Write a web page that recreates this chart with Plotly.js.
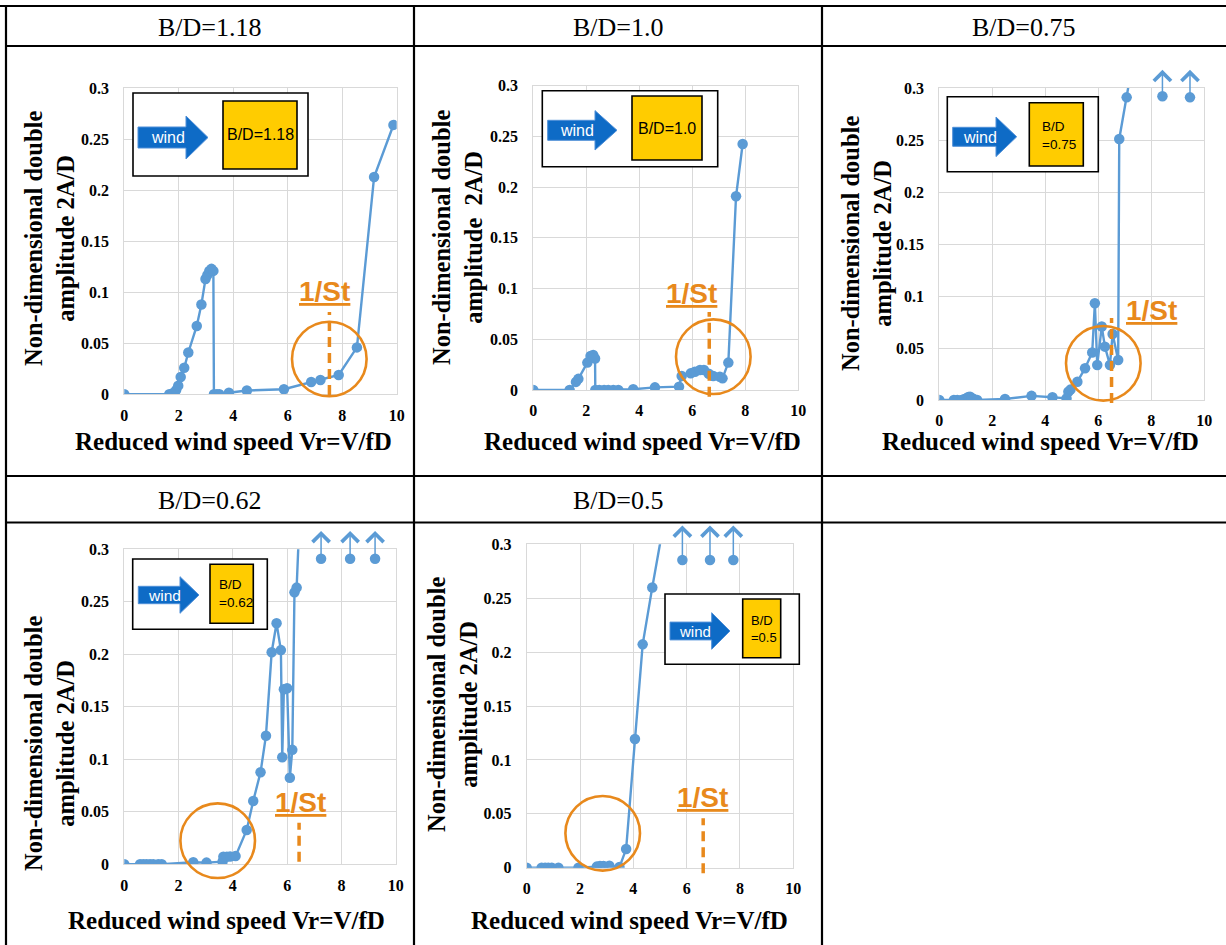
<!DOCTYPE html>
<html><head><meta charset="utf-8">
<script src="https://cdn.plot.ly/plotly-3.0.1.min.js"></script>
<style>html,body{margin:0;padding:0;background:#fff}#chart{width:1226px;height:945px}</style>
</head><body><div id="chart"></div>
<script>
// ---------------- data ----------------
const panelTitles = ['B/D=1.18', 'B/D=1.0', 'B/D=0.75', 'B/D=0.62', 'B/D=0.5'];
const insetLabels = ['B/D=1.18', 'B/D=1.0', 'B/D<br>=0.75', 'B/D<br>=0.62', 'B/D<br>=0.5'];
const windLabel = 'wind';
const xTitle = 'Reduced wind speed Vr=V/fD';
const yTitles = ['Non-dimensional double<br>amplitude 2A/D', 'Non-dimensional double<br>amplitude\u00a0 2A/D',
  'Non-dimensional double<br>amplitude 2A/D', 'Non-dimensional double<br>amplitude 2A/D', 'Non-dimensional double<br>amplitude 2A/D'];
const stLabel = '1/St';
const xTickVals = [0, 2, 4, 6, 8, 10];
const xTickText = ['0', '2', '4', '6', '8', '10'];
const yTickVals = [0, 0.05, 0.1, 0.15, 0.2, 0.25, 0.3];
const yTickText = ['0', '0.05', '0.1', '0.15', '0.2', '0.25', '0.3'];

// B/D = 1.18
const bd118Vr  = [0, 1.65, 1.78, 1.9, 1.98, 2.07, 2.2, 2.35, 2.66, 2.83, 2.98, 3.05, 3.12, 3.2, 3.27, 3.29, 3.4, 3.49, 3.84, 4.5, 5.86, 6.86, 7.2, 7.87, 8.54, 9.17, 9.88];
const bd118Amp = [0, 0, 0.001, 0.004, 0.0085, 0.017, 0.026, 0.041, 0.067, 0.088, 0.113, 0.117, 0.121, 0.123, 0.121, 0, 0, 0, 0.0015, 0.0037, 0.005, 0.012, 0.014, 0.019, 0.046, 0.213, 0.264];
// B/D = 1.0
const bd10Vr  = [0, 1.37, 1.61, 1.7, 2.04, 2.16, 2.26, 2.33, 2.34, 2.49, 2.67, 2.83, 3.02, 3.21, 3.77, 4.59, 5.5, 5.6, 5.94, 6.1, 6.29, 6.44, 6.62, 6.79, 7.04, 7.14, 7.36, 7.65, 7.9];
const bd10Amp = [0, 0, 0.008, 0.011, 0.027, 0.0335, 0.0345, 0.031, 0, 0, 0, 0, 0, 0, 0.0007, 0.0026, 0.0033, 0.0138, 0.0164, 0.018, 0.0197, 0.0197, 0.016, 0.0138, 0.013, 0.0115, 0.027, 0.191, 0.2425];
// B/D = 0.75
const bd075Vr  = [0, 0.55, 0.68, 0.84, 0.95, 1.03, 1.1, 1.16, 1.22, 1.3, 1.43, 2.48, 3.48, 4.27, 4.8, 4.87, 4.95, 5.21, 5.5, 5.77, 5.87, 5.96, 6.13, 6.25, 6.44, 6.54, 6.75, 6.79, 7.07, 7.4];
const bd075Amp = [0, 0, 0, 0, 0.001, 0.0016, 0.003, 0.0032, 0.002, 0.001, 0, 0.001, 0.004, 0.0026, 0.0016, 0.008, 0.01, 0.0176, 0.0305, 0.0456, 0.093, 0.0337, 0.0706, 0.0513, 0.0337, 0.0635, 0.0385, 0.251, 0.291, 0.34];
const bd075OverVr  = [8.42, 9.46];
const bd075OverAmp = [0.292, 0.291];
// B/D = 0.62
const bd062Vr  = [0, 0.58, 0.7, 0.82, 0.95, 1.07, 1.25, 1.38, 2.54, 3.03, 3.62, 3.65, 3.78, 3.9, 4.1, 4.51, 4.75, 5.02, 5.22, 5.43, 5.61, 5.77, 5.82, 5.88, 6.0, 6.1, 6.19, 6.27, 6.35, 6.6];
const bd062Amp = [0, 0, 0, 0, 0, 0, 0, 0, 0.0019, 0.0016, 0.0025, 0.0073, 0.0073, 0.0075, 0.0078, 0.0327, 0.0603, 0.0876, 0.1225, 0.202, 0.2295, 0.204, 0.102, 0.1667, 0.1676, 0.0825, 0.109, 0.259, 0.2635, 0.42];
const bd062OverVr  = [7.25, 8.32, 9.24];
const bd062OverAmp = [0.291, 0.291, 0.291];
// B/D = 0.5
const bd05Vr  = [0, 0.56, 0.69, 0.81, 0.94, 1.19, 1.94, 2.63, 2.75, 2.88, 3.1, 3.48, 3.73, 4.06, 4.35, 4.71, 5.5];
const bd05Amp = [0, 0, 0, 0, 0, 0, 0, 0.001, 0.0015, 0.0015, 0.0018, 0.0006, 0.0173, 0.1194, 0.2072, 0.26, 0.37];
const bd05OverVr  = [5.84, 6.875, 7.75];
const bd05OverAmp = [0.2855, 0.2855, 0.2855];
// 1/St reference speeds
const strouhalVr = [7.53, 6.64, 6.5, 6.44, 6.62];

// ---------------- layout geometry (pixels) ----------------
const W = 1226, H = 945;
const fx = p => p / W, fy = p => 1 - p / H;
const BLUE = '#5B9BD5', ORANGE = '#E8891C', GRID = '#D9D9D9';
const SERIF = 'Liberation Serif, Times New Roman, serif';
const SANS = 'Liberation Sans, Arial, sans-serif';
const bold = arr => arr.map(t => '<b>' + t + '</b>');

const plotBoxes = [
  {l: 124.3, r: 396.7, t: 88.3, b: 394.3},
  {l: 533.3, r: 798.3, t: 85.7, b: 390},
  {l: 939.3, r: 1204.3, t: 88, b: 400},
  {l: 124.3, r: 395.7, t: 549.3, b: 864.3},
  {l: 526.7, r: 793.3, t: 544.3, b: 867.7}
];
const headerPos = [[210, 27], [618, 27], [1024, 27], [210, 500], [618, 500]];
const xTitlePos = [[233, 441], [642, 441], [1040, 441], [226, 920], [629, 920]];
const yTitlePos = [[49, 239], [458, 238], [866, 244], [49, 744], [452, 705]];
const insets = [
  {box: [133, 308, 93, 176], yel: [223, 297, 101, 169], ar: [138, 186, 208, 137.5, 10.5, 21.5], wind: [168, 137.5, 16], lab: [260, 135, 16, 'center']},
  {box: [542.3, 717.7, 90.7, 166.7], yel: [632, 702, 96, 160], ar: [547.7, 595, 617, 130.3, 10, 19.7], wind: [577, 130.5, 16], lab: [667, 128, 16, 'center']},
  {box: [947.3, 1098.3, 96.7, 171.7], yel: [1029.3, 1083.3, 102.7, 166], ar: [952.7, 996, 1016.7, 136.8, 9.5, 19.8], wind: [980, 137, 16], lab: [1040, 136, 13.5, 'left']},
  {box: [132.7, 267.3, 559, 629.3], yel: [210, 253.3, 564.3, 623.3], ar: [138.3, 180, 199, 595, 8.7, 18.3], wind: [164, 595.5, 15.5], lab: [216.5, 593, 13.5, 'left']},
  {box: [665, 799.3, 594, 664.3], yel: [742.7, 780.7, 599, 657.7], ar: [670, 711.7, 730, 631, 8.9, 18.3], wind: [695, 631, 15], lab: [748.5, 629, 13, 'left']}
];
const circles = [[329.3, 359], [713.3, 356.7], [1103.3, 363.3], [217.7, 840.7], [602.7, 833.3]];
const circleR = 37.3;
const stDash = [[312, 395], [312, 396.7], [318, 403], [822.7, 861.7], [818.3, 873.3]];
const stText = [[324, 291], [691.7, 292], [1151, 309.5], [300, 801], [702.5, 796.7]];

const series = [
  {vr: bd118Vr, amp: bd118Amp},
  {vr: bd10Vr, amp: bd10Amp},
  {vr: bd075Vr, amp: bd075Amp, ovr: bd075OverVr, oamp: bd075OverAmp},
  {vr: bd062Vr, amp: bd062Amp, ovr: bd062OverVr, oamp: bd062OverAmp},
  {vr: bd05Vr, amp: bd05Amp, ovr: bd05OverVr, oamp: bd05OverAmp}
];

const traces = [];
const shapes = [];
const annotations = [];
const layout = {
  width: W, height: H, autosize: false,
  margin: {l: 0, r: 0, t: 0, b: 0, pad: 0},
  paper_bgcolor: '#ffffff', plot_bgcolor: '#ffffff',
  showlegend: false, shapes: shapes, annotations: annotations
};

// table lines
const tableLine = {color: '#000000', width: 2.2};
[[0, W, 6], [6, W, 46], [6, W, 476], [6, W, 522.5]].forEach(([a, b, y]) =>
  shapes.push({type: 'line', xref: 'paper', yref: 'paper', x0: fx(a), x1: fx(b), y0: fy(y), y1: fy(y), line: tableLine, layer: 'above'}));
[6, 414, 822].forEach(x =>
  shapes.push({type: 'line', xref: 'paper', yref: 'paper', x0: fx(x), x1: fx(x), y0: fy(6), y1: fy(H + 5), line: tableLine, layer: 'above'}));

series.forEach((s, i) => {
  const n = i === 0 ? '' : String(i + 1);
  const xa = 'x' + n, ya = 'y' + n;
  const b = plotBoxes[i];
  traces.push({type: 'scatter', mode: 'lines+markers', x: s.vr, y: s.amp, xaxis: xa, yaxis: ya,
    line: {color: BLUE, width: 2.4}, marker: {color: BLUE, size: 10.5}, cliponaxis: true, name: panelTitles[i]});
  if (s.ovr) {
    traces.push({type: 'scatter', mode: 'markers', x: s.ovr, y: s.oamp, xaxis: xa, yaxis: ya,
      marker: {color: BLUE, size: 10.5}, cliponaxis: false, name: panelTitles[i] + ' (off scale)'});
    s.ovr.forEach((v, k) => annotations.push({xref: xa, yref: ya, axref: xa, ayref: ya,
      x: v, y: 0.3175, ax: v, ay: s.oamp[k], text: '', showarrow: true,
      arrowhead: 4, arrowsize: 2.2, arrowwidth: 1.5, arrowcolor: BLUE}));
  }
  const tickFont = {family: SERIF, size: 16, color: '#000'};
  layout['xaxis' + n] = {domain: [fx(b.l), fx(b.r)], anchor: ya, range: [0, 10], fixedrange: true,
    tickmode: 'array', tickvals: xTickVals, ticktext: bold(xTickText), ticks: '', tickfont: tickFont, ticklabelstandoff: 6,
    showgrid: true, gridcolor: GRID, gridwidth: 1, zeroline: false, showline: true, mirror: true, linecolor: GRID, linewidth: 1};
  layout['yaxis' + n] = {domain: [fy(b.b), fy(b.t)], anchor: xa, range: [0, 0.3], fixedrange: true,
    tickmode: 'array', tickvals: yTickVals, ticktext: bold(yTickText), ticks: '', tickfont: tickFont, ticklabelstandoff: 11,
    showgrid: true, gridcolor: GRID, gridwidth: 1, zeroline: false, showline: true, mirror: true, linecolor: GRID, linewidth: 1};

  // header
  annotations.push({xref: 'paper', yref: 'paper', x: fx(headerPos[i][0]), y: fy(headerPos[i][1]), xanchor: 'center', yanchor: 'middle',
    text: panelTitles[i], showarrow: false, font: {family: SERIF, size: 26, color: '#000'}});
  // axis titles
  annotations.push({xref: 'paper', yref: 'paper', x: fx(xTitlePos[i][0]), y: fy(xTitlePos[i][1]), xanchor: 'center', yanchor: 'middle',
    text: '<b>' + xTitle + '</b>', showarrow: false, font: {family: SERIF, size: 25, color: '#000'}});
  annotations.push({xref: 'paper', yref: 'paper', x: fx(yTitlePos[i][0]), y: fy(yTitlePos[i][1]), xanchor: 'center', yanchor: 'middle',
    text: '<b>' + yTitles[i] + '</b>', textangle: -90, showarrow: false, font: {family: SERIF, size: 24.5, color: '#000'}});

  // inset: wind arrow + section box
  const ins = insets[i];
  shapes.push({type: 'rect', xref: 'paper', yref: 'paper', x0: fx(ins.box[0]), x1: fx(ins.box[1]), y0: fy(ins.box[3]), y1: fy(ins.box[2]),
    line: {color: '#000', width: 1.6}, fillcolor: '#ffffff', layer: 'above'});
  const [ax0, ahb, ax1, ayc, abh, ahh] = ins.ar;
  const pts = [[ax0, ayc - abh], [ahb, ayc - abh], [ahb, ayc - ahh], [ax1, ayc], [ahb, ayc + ahh], [ahb, ayc + abh], [ax0, ayc + abh]];
  const path = 'M' + pts.map(p => fx(p[0]) + ',' + fy(p[1])).join('L') + 'Z';
  shapes.push({type: 'path', xref: 'paper', yref: 'paper', path: path, fillcolor: '#0E6BC6', line: {color: '#4F8FD8', width: 1}, layer: 'above'});
  shapes.push({type: 'rect', xref: 'paper', yref: 'paper', x0: fx(ins.yel[0]), x1: fx(ins.yel[1]), y0: fy(ins.yel[3]), y1: fy(ins.yel[2]),
    line: {color: '#000', width: 1.6}, fillcolor: '#FFCC00', layer: 'above'});
  annotations.push({xref: 'paper', yref: 'paper', x: fx(ins.wind[0]), y: fy(ins.wind[1]), xanchor: 'center', yanchor: 'middle',
    text: windLabel, showarrow: false, font: {family: SANS, size: ins.wind[2], color: '#ffffff'}});
  annotations.push({xref: 'paper', yref: 'paper', x: fx(ins.lab[0]), y: fy(ins.lab[1]), xanchor: ins.lab[3], yanchor: 'middle', align: 'left',
    text: insetLabels[i], showarrow: false, font: {family: SANS, size: ins.lab[2], color: '#000'}});

  // 1/St marker: circle, dashed line, underlined label
  const c = circles[i];
  shapes.push({type: 'circle', xref: 'paper', yref: 'paper', x0: fx(c[0] - circleR), x1: fx(c[0] + circleR), y0: fy(c[1] + circleR), y1: fy(c[1] - circleR),
    line: {color: ORANGE, width: 2.6}, layer: 'above'});
  shapes.push({type: 'line', xref: xa + ' domain', yref: 'paper', x0: strouhalVr[i] / 10, x1: strouhalVr[i] / 10, y0: fy(stDash[i][1]), y1: fy(stDash[i][0]),
    line: {color: ORANGE, width: 3.5, dash: '10px,6px'}, layer: 'above'});
  annotations.push({xref: 'paper', yref: 'paper', x: fx(stText[i][0]), y: fy(stText[i][1] + 1), xanchor: 'center', yanchor: 'middle',
    text: '<b>' + stLabel + '</b>', showarrow: false, font: {family: SANS, size: 28, color: ORANGE, lineposition: 'under'}});
});

Plotly.newPlot('chart', traces, layout, {displayModeBar: false, staticPlot: true});
</script>
</body></html>
